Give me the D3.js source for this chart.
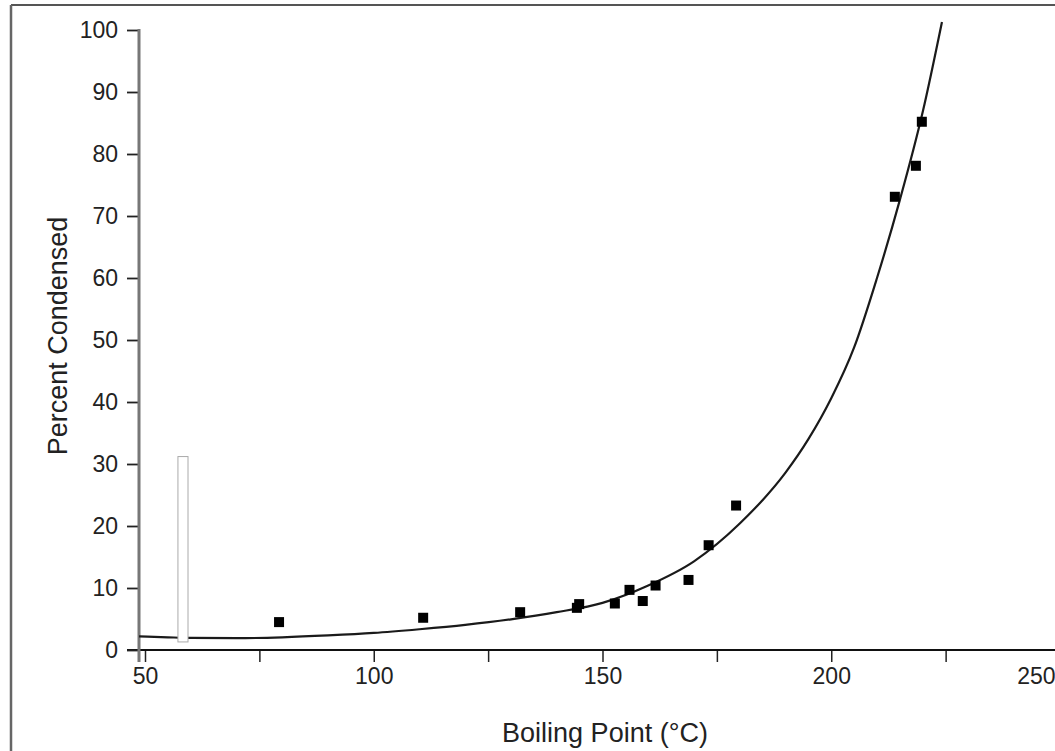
<!DOCTYPE html>
<html>
<head>
<meta charset="utf-8">
<script src="https://cdn.jsdelivr.net/npm/d3@7"></script>
<style>
  html, body { margin: 0; padding: 0; background: #fff; }
  svg { display: block; font-family: "Liberation Sans", Arial, Helvetica, sans-serif; }
</style>
</head>
<body>
<svg id="chart" width="1055" height="751"></svg>
<script>
// ---- data ----
const boilingPoints = [79.3, 110.8, 132.0, 144.4, 144.9, 152.7, 155.9, 158.8, 161.6, 168.8, 173.2, 179.2, 213.9, 218.5, 219.8];
const percentCondensed = [4.5, 5.2, 6.1, 6.8, 7.4, 7.5, 9.7, 7.9, 10.4, 11.3, 16.9, 23.3, 73.1, 78.1, 85.2];

const fitBoilingPoints = [48.7, 55, 60, 70, 80, 90, 100, 110, 120, 130, 140, 150, 160, 170, 180, 190, 195, 200, 205, 210, 215, 220, 224.2];
const fitPercent = [2.2, 2.05, 1.95, 1.9, 2.05, 2.35, 2.75, 3.35, 4.05, 4.95, 6.1, 7.6, 10.4, 14.3, 20.4, 28.6, 34.0, 40.6, 48.8, 60.0, 72.6, 86.8, 101.3];

const boxLeft = [57.2];
const boxRight = [59.4];
const boxLow = [1.3];
const boxHigh = [31.2];

const xTickValues = [50, 75, 100, 125, 150, 175, 200, 225, 250];
const xTickLabels = ["50", "", "100", "", "150", "", "200", "", "250"];
const yTickValues = [0, 10, 20, 30, 40, 50, 60, 70, 80, 90, 100];
const yTickLabels = ["0", "10", "20", "30", "40", "50", "60", "70", "80", "90", "100"];

const xTitle = "Boiling Point (°C)";
const yTitle = "Percent Condensed";

// ---- drawing ----
const svg = d3.select("#chart");
const x = d3.scaleLinear().domain([50, 250]).range([145, 1060]);
const y = d3.scaleLinear().domain([0, 100]).range([650, 30]);
const yAxisX = 139;

// outer frame (top and left)
svg.append("line").attr("x1", 11).attr("x2", 1055).attr("y1", 5).attr("y2", 5)
  .attr("stroke", "#555").attr("stroke-width", 2);
svg.append("line").attr("x1", 11).attr("x2", 11).attr("y1", 5).attr("y2", 751)
  .attr("stroke", "#666").attr("stroke-width", 2.5);

// x axis
const xAxis = d3.axisBottom(x).tickValues(xTickValues)
  .tickFormat((d, i) => xTickLabels[i]).tickSize(12).tickSizeOuter(0).tickPadding(6);
const gx = svg.append("g").attr("transform", "translate(0,650)").call(xAxis);
gx.select(".domain").remove();
gx.append("line").attr("x1", 127).attr("x2", 1055).attr("y1", 0).attr("y2", 0)
  .attr("stroke", "#111").attr("stroke-width", 2);
gx.selectAll(".tick line").attr("stroke", "#222").attr("stroke-width", 1.5);
gx.selectAll(".tick text").attr("font-size", 23).attr("fill", "#222")
  .attr("font-family", "Liberation Sans, Arial, sans-serif");
// keep the last label inside the picture
gx.selectAll(".tick text").filter(d => d === 250)
  .attr("text-anchor", "end").attr("x", 1055 - x(250));

// y axis
const yAxis = d3.axisLeft(y).tickValues(yTickValues)
  .tickFormat((d, i) => yTickLabels[i]).tickSize(12).tickSizeOuter(0).tickPadding(9);
const gy = svg.append("g").attr("transform", `translate(${yAxisX},0)`).call(yAxis);
gy.select(".domain").remove();
gy.append("line").attr("x1", 0).attr("x2", 0).attr("y1", y(100) - 1).attr("y2", 662)
  .attr("stroke", "#777").attr("stroke-width", 3);
gy.selectAll(".tick line").attr("stroke", "#222").attr("stroke-width", 1.8);
gy.selectAll(".tick text").attr("font-size", 23).attr("fill", "#222")
  .attr("font-family", "Liberation Sans, Arial, sans-serif");

// fitted curve
const fitData = fitBoilingPoints.map((t, i) => [t, fitPercent[i]]);
const line = d3.line().x(d => x(d[0])).y(d => y(d[1])).curve(d3.curveMonotoneX);
svg.append("path").datum(fitData).attr("d", line)
  .attr("fill", "none").attr("stroke", "#1a1a1a").attr("stroke-width", 2.2);

// hollow box (drawn over the curve)
svg.selectAll("rect.box").data(boxLeft).enter().append("rect")
  .attr("class", "box")
  .attr("x", (d, i) => x(d))
  .attr("width", (d, i) => x(boxRight[i]) - x(d))
  .attr("y", (d, i) => y(boxHigh[i]))
  .attr("height", (d, i) => y(boxLow[i]) - y(boxHigh[i]))
  .attr("fill", "#fff").attr("stroke", "#aaa").attr("stroke-width", 1);

// data points
const pts = boilingPoints.map((t, i) => [t, percentCondensed[i]]);
const ms = 10;
svg.selectAll("rect.pt").data(pts).enter().append("rect")
  .attr("class", "pt")
  .attr("x", d => x(d[0]) - ms / 2).attr("y", d => y(d[1]) - ms / 2)
  .attr("width", ms).attr("height", ms).attr("fill", "#000");

// titles
svg.append("text").attr("x", 605).attr("y", 742).attr("text-anchor", "middle")
  .attr("font-size", 27).attr("fill", "#222").text(xTitle);
svg.append("text").attr("transform", "translate(67,336) rotate(-90)")
  .attr("text-anchor", "middle").attr("font-size", 27).attr("fill", "#222").text(yTitle);
</script>
</body>
</html>
